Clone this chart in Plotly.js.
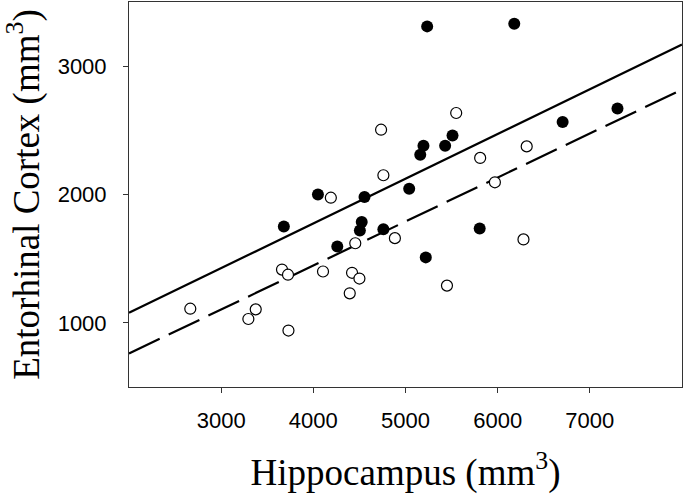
<!DOCTYPE html>
<html>
<head>
<meta charset="utf-8">
<script src="https://cdn.plot.ly/plotly-3.0.1.min.js"></script>
<style>html,body{margin:0;padding:0;background:#fff;}#chart{width:683px;height:500px;}</style>
</head>
<body>
<div id="chart"></div>
<script>
// Filled circles
const filledX = [3680, 4050, 4260, 4525, 4505, 4555, 4760, 5040, 5160, 5195, 5235, 5220, 5430, 5510, 5805, 6180, 6705, 7300];
const filledY = [1750, 2000, 1595, 1785, 1720, 1980, 1730, 2045, 2310, 2380, 3310, 1510, 2380, 2460, 1735, 3330, 2565, 2670];
// Open circles
const openX = [2665, 3295, 3375, 3660, 3725, 3730, 4105, 4190, 4395, 4420, 4500, 4455, 4735, 4760, 4885, 5450, 5550, 5810, 5970, 6280, 6315];
const openY = [1110, 1030, 1105, 1415, 1375, 940, 1400, 1975, 1230, 1390, 1345, 1620, 2505, 2150, 1660, 1290, 2635, 2285, 2095, 1650, 2375];
// Regression lines (endpoints at the axis edges)
const lineX = [2000, 8000];
const solidY = [1078, 3169];
const dashedY = [761, 2818];
// Ticks
const xTicks = [3000, 4000, 5000, 6000, 7000];
const yTicks = [1000, 2000, 3000];

const traces = [
  {x: lineX, y: solidY, mode: 'lines', line: {color: '#000', width: 2.2}, hoverinfo: 'skip'},
  {x: lineX, y: dashedY, mode: 'lines', line: {color: '#000', width: 2.2, dash: '34px,10px'}, hoverinfo: 'skip'},
  {x: openX, y: openY, mode: 'markers', marker: {symbol: 'circle', size: 11, color: '#fff', line: {color: '#000', width: 1.2}}},
  {x: filledX, y: filledY, mode: 'markers', marker: {symbol: 'circle', size: 12, color: '#000', line: {color: '#000', width: 0}}}
];

const layout = {
  width: 683, height: 500,
  margin: {l: 129, r: 1, t: 2, b: 113},
  paper_bgcolor: '#fff', plot_bgcolor: '#fff',
  showlegend: false,
  xaxis: {
    range: [2000, 8000], tickvals: xTicks, ticktext: xTicks.map(String),
    showgrid: false, zeroline: false,
    showline: true, linecolor: '#333', linewidth: 1, mirror: true,
    ticks: 'outside', ticklen: 5, tickcolor: '#333', tickwidth: 1,
    ticklabelstandoff: 9,
    tickfont: {family: 'Liberation Sans, Arial, sans-serif', size: 22, color: '#000'},
    title: {text: 'Hippocampus (mm<sup>3</sup>)', standoff: 26,
            font: {family: 'Liberation Serif, Times New Roman, serif', size: 37, color: '#000'}}
  },
  yaxis: {
    range: [500, 3500], tickvals: yTicks, ticktext: yTicks.map(String),
    showgrid: false, zeroline: false,
    showline: true, linecolor: '#333', linewidth: 1, mirror: true,
    ticks: 'outside', ticklen: 5, tickcolor: '#333', tickwidth: 1,
    ticklabelstandoff: 12,
    tickfont: {family: 'Liberation Sans, Arial, sans-serif', size: 22, color: '#000'},
    title: {text: 'Entorhinal Cortex (mm<sup>3</sup>)', standoff: 10,
            font: {family: 'Liberation Serif, Times New Roman, serif', size: 37, color: '#000'}}
  }
};

Plotly.newPlot('chart', traces, layout, {staticPlot: true, displayModeBar: false});
</script>
</body>
</html>
